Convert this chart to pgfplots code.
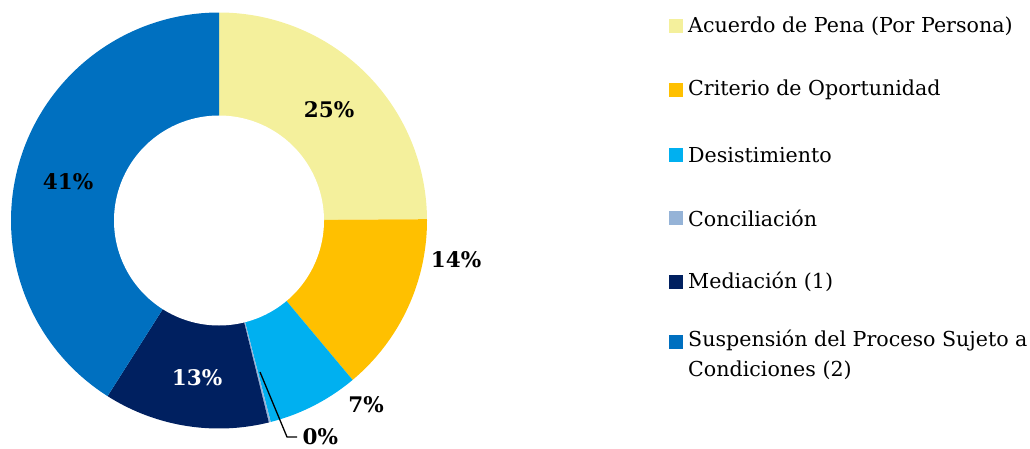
\documentclass[border=0pt]{standalone}
\usepackage{pgfplots}
\usepackage{pgfplotstable}
\pgfplotsset{compat=1.18}
\usepackage{fontspec}
\setmainfont{DejaVu Serif}
\definecolor{c0}{HTML}{F4F09C}
\definecolor{c1}{HTML}{FFC000}
\definecolor{c2}{HTML}{00B0F0}
\definecolor{c3}{HTML}{95B3D7}
\definecolor{c4}{HTML}{002060}
\definecolor{c5}{HTML}{0070C0}
\pgfplotstableread{
val
24.9
14.0
7.1
0.15
12.85
41.0
}\datatable
\def\cx{219}
\def\cy{227.5}
\def\Ro{208}
\def\Ri{105}
\tikzset{lbl/.style={font=\fontsize{21.5}{24}\selectfont\bfseries},
  lt/.style={anchor=west, inner sep=0pt, font=\fontsize{20.6}{30}\selectfont, align=left}}
\begin{document}
\begin{tikzpicture}
\begin{axis}[
  width=1030pt, height=448pt, scale only axis,
  xmin=0, xmax=1030, ymin=0, ymax=448,
  hide axis, clip=false,
]
\gdef\angA{90}
\pgfplotsforeachungrouped \i in {0,...,5}{%
  \pgfplotstablegetelem{\i}{val}\of\datatable
  \pgfmathsetmacro\angB{\angA-3.6*\pgfplotsretval}%
  \edef\cmd{\noexpand\addplot[fill=c\i, draw=none, domain=\angB:\angA, samples=120]
    ({\cx+\Ro*cos(x)},{\cy+\Ro*sin(x)}) -- (axis cs:\cx,\cy) -- cycle;}%
  \cmd
  \global\let\angA\angB
}
\addplot[fill=white, draw=none, domain=0:360, samples=241] ({\cx+\Ri*cos(x)},{\cy+\Ri*sin(x)}) -- cycle;

% data labels
\node[lbl] at (axis cs:329,338) {25\%};
\node[lbl] at (axis cs:456,188) {14\%};
\node[lbl] at (axis cs:366,43) {7\%};
\node[lbl, anchor=west] at (axis cs:299,11) {0\%};
\node[lbl, text=white] at (axis cs:197,70) {13\%};
\node[lbl] at (axis cs:68,266) {41\%};
\draw[black, line width=1.3pt] (axis cs:260,76) -- (axis cs:287,11) -- (axis cs:297,11);

% legend
\fill[c0] (axis cs:669,415) rectangle (axis cs:683,429);
\node[lt] at (axis cs:688,422) {Acuerdo de Pena (Por Persona)};
\fill[c1] (axis cs:669,351) rectangle (axis cs:683,365);
\node[lt] at (axis cs:688,358) {Criterio de Oportunidad};
\fill[c2] (axis cs:669,286) rectangle (axis cs:683,300);
\node[lt] at (axis cs:688,293) {Desistimiento};
\fill[c3] (axis cs:669,223) rectangle (axis cs:683,237);
\node[lt] at (axis cs:688,230) {Conciliación};
\fill[c4] (axis cs:669,159) rectangle (axis cs:683,173);
\node[lt] at (axis cs:688,166) {Mediación (1)};
\fill[c5] (axis cs:669,99) rectangle (axis cs:683,113);
\node[lt] at (axis cs:688,93) {Suspensión del Proceso Sujeto a\\Condiciones (2)};
\path (axis cs:0,0) rectangle (axis cs:1030,448);
\end{axis}
\end{tikzpicture}
\end{document}
